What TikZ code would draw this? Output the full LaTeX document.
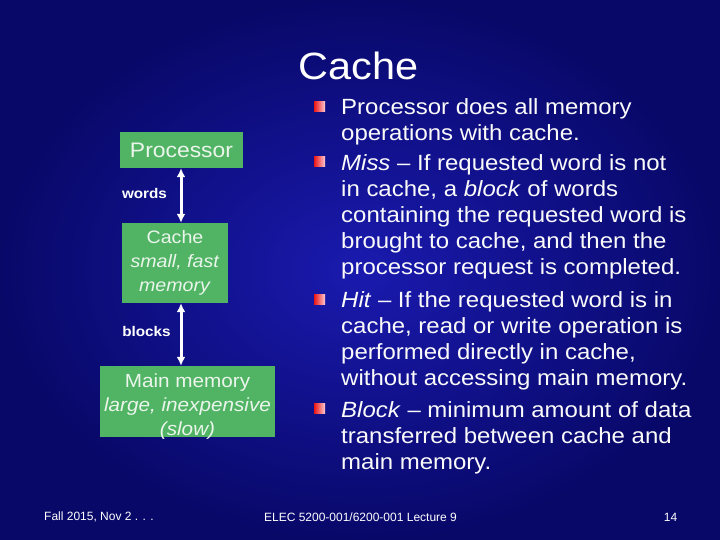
\documentclass[tikz,border=0pt]{standalone}
\usepackage{fontspec}
\setmainfont[FakeStretch=1.09]{Liberation Sans}
\newfontfamily\footfont{Liberation Sans}
\usetikzlibrary{calc,arrows.meta}

\begin{document}
\begin{tikzpicture}[x=1pt, y=-1pt]
% Styles
\tikzstyle{none} = []
\tikzstyle{box}=[fill={rgb,255: red,80; green,180; blue,100}, text={rgb,255: red,235; green,245; blue,235}, inner sep=0pt, align=center, font=\fontsize{18}{24}\selectfont]
\tikzstyle{arrow}=[draw=white, line width=3pt, {Latex[length=9pt,width=9pt]}-{Latex[length=9pt,width=9pt]}]
\tikzstyle{linklabel}=[text=white, inner sep=0pt, font=\bfseries\fontsize{14}{16}\selectfont]
\tikzstyle{bullet}=[left color={rgb,255: red,235; green,20; blue,20}, right color={rgb,255: red,255; green,200; blue,210}, minimum width=11pt, minimum height=10pt, inner sep=0pt]
\tikzstyle{item}=[text={rgb,255: red,250; green,250; blue,250}, align=left, anchor=base west, inner sep=0pt, font=\fontsize{22}{26}\selectfont]
\tikzstyle{foot}=[text=white, inner sep=0pt, font=\footfont\fontsize{12}{14}\selectfont]

% background
\shade [inner color={rgb,255: red,26; green,26; blue,175}, outer color={rgb,255: red,8; green,8; blue,105}] (0,0) rectangle (720,540);
\useasboundingbox (0,0) rectangle (720,540);

\node [style=none, text=white, inner sep=0pt, font=\fontsize{38}{40}\selectfont] (0) at (358.5, 65.5) {Cache};

\node [style=box, minimum width=123pt, minimum height=36pt, font=\fontsize{21}{24}\selectfont] (1) at (181.5, 150) {Processor};
\node [style=box, minimum width=106pt, minimum height=80pt] (2) at (175, 263) {Cache\\\textit{small, fast}\\\textit{memory}};
\node [style=box, minimum width=175pt, minimum height=71pt, text height=68pt, text depth=0pt, font=\fontsize{19}{24}\selectfont] (3) at (187.5, 401.5) {Main memory\\\textit{large, inexpensive}\\\textit{(slow)}};
\node [style=linklabel] (4) at (144.5, 193) {words};
\node [style=linklabel] (5) at (146.5, 331) {blocks};
\coordinate (6) at (181, 0);

\node [style=bullet] (7) at (319.5, 106.5) {};
\node [style=bullet] (8) at (319.5, 161.5) {};
\node [style=bullet] (9) at (319.5, 299.5) {};
\node [style=bullet] (10) at (319.5, 408.5) {};
% base anchor sits on the last line
\node [style=item] (11) at (341, 141) {Processor does all memory\\operations with cache.};
\node [style=item] (12) at (341, 274) {\textit{Miss} – If requested word is not\\in cache, a \textit{block} of words\\containing the requested word is\\brought to cache, and then the\\processor request is completed.};
\node [style=item] (13) at (341, 385) {\textit{Hit} – If the requested word is in\\cache, read or write operation is\\performed directly in cache,\\without accessing main memory.};
\node [style=item] (14) at (341, 469) {\textit{Block} – minimum amount of data\\transferred between cache and\\main memory.};

\node [style=foot, anchor=west] (15) at (44, 517) {Fall 2015, Nov 2 . . .};
\node [style=foot] (16) at (360.5, 517) {ELEC 5200-001/6200-001 Lecture 9};
\node [style=foot] (17) at (670.5, 517) {14};

\draw [style=arrow] (1.south -| 6) to (2.north -| 6);
\draw [style=arrow] (2.south -| 6) to (3.north -| 6);
\end{tikzpicture}
\end{document}
